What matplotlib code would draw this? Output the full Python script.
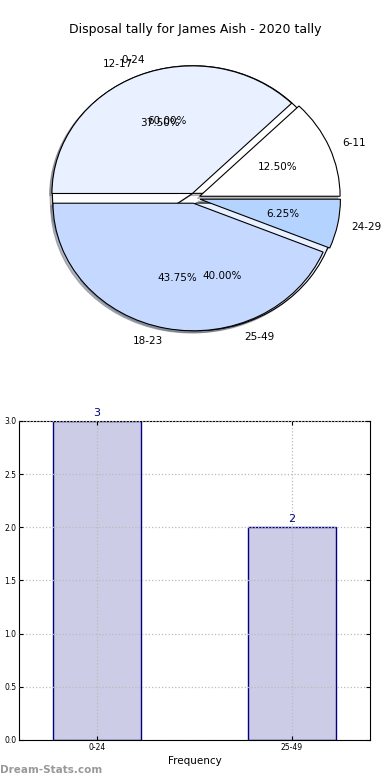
import matplotlib
matplotlib.use("Agg")
import matplotlib.pyplot as plt

title = "Disposal tally for James Aish - 2020 tally"
pie1_labels = ["0-24", "25-49"]
pie1_values = [60.0, 40.0]
pie2_labels = ["6-11", "12-17", "18-23", "24-29"]
pie2_values = [12.5, 37.5, 43.75, 6.25]
bar_labels = ["0-24", "25-49"]
bar_values = [3, 2]

colors = ["#ffffff", "#e9f0ff", "#c5d8ff", "#b4d4ff"]

fig = plt.figure(figsize=(3.9, 7.8), dpi=100)

# Pie
axp = fig.add_axes([0.0487, 0.5414, 0.9, 0.409])
wp = dict(edgecolor="black", linewidth=0.8)
shadow = dict(ox=-0.012, oy=-0.012, shade=0.5)
axp.pie(pie1_values, labels=pie1_labels, autopct="%.2f%%", colors=colors[:2],
        explode=[0.04] * len(pie1_values), shadow=shadow, wedgeprops=wp,
        textprops=dict(fontsize=7.5))
axp.pie(pie2_values, labels=pie2_labels, autopct="%.2f%%", colors=colors,
        explode=[0.04] * len(pie2_values), shadow=shadow, wedgeprops=wp,
        textprops=dict(fontsize=7.5))
axp.set_aspect("auto")
axp.set_xlim(-1.25, 1.25)
axp.set_ylim(-1.25, 1.25)
fig.text(0.5, 1 - 30 / 780, title, ha="center", va="center", fontsize=9)

# Bar
axb = fig.add_axes([0.0487, 0.0513, 0.9, 0.409])
x = list(range(len(bar_values)))
bars = axb.bar(x, bar_values, width=0.45, color="#ccccE6", edgecolor="#000080", linewidth=1.0)
for xi, v in zip(x, bar_values):
    axb.text(xi, v + 0.03, f"{v}", ha="center", va="bottom", color="#000080", fontsize=8)
axb.set_xlim(-0.4, 1.4)
axb.set_ylim(0, 3.0)
axb.set_xticks(x)
axb.set_xticklabels(bar_labels)
axb.set_yticks([0, 0.5, 1.0, 1.5, 2.0, 2.5, 3.0])
axb.set_yticklabels(["0.0", "0.5", "1.0", "1.5", "2.0", "2.5", "3.0"])
axb.tick_params(labelsize=5.5, direction="in", top=True, right=True, length=3, pad=2)
axb.grid(True, linestyle=":", color="#bbbbbb", linewidth=0.9)
axb.set_axisbelow(False)
axb.set_xlabel("Frequency", fontsize=7.5, labelpad=3)
for s in axb.spines.values():
    s.set_linewidth(0.8)

fig.text(0.0, 1 - 770 / 780, "Dream-Stats.com", ha="left", va="center",
         fontsize=7.5, color="#999999", fontweight="bold")

fig.savefig("out.png", dpi=100)
